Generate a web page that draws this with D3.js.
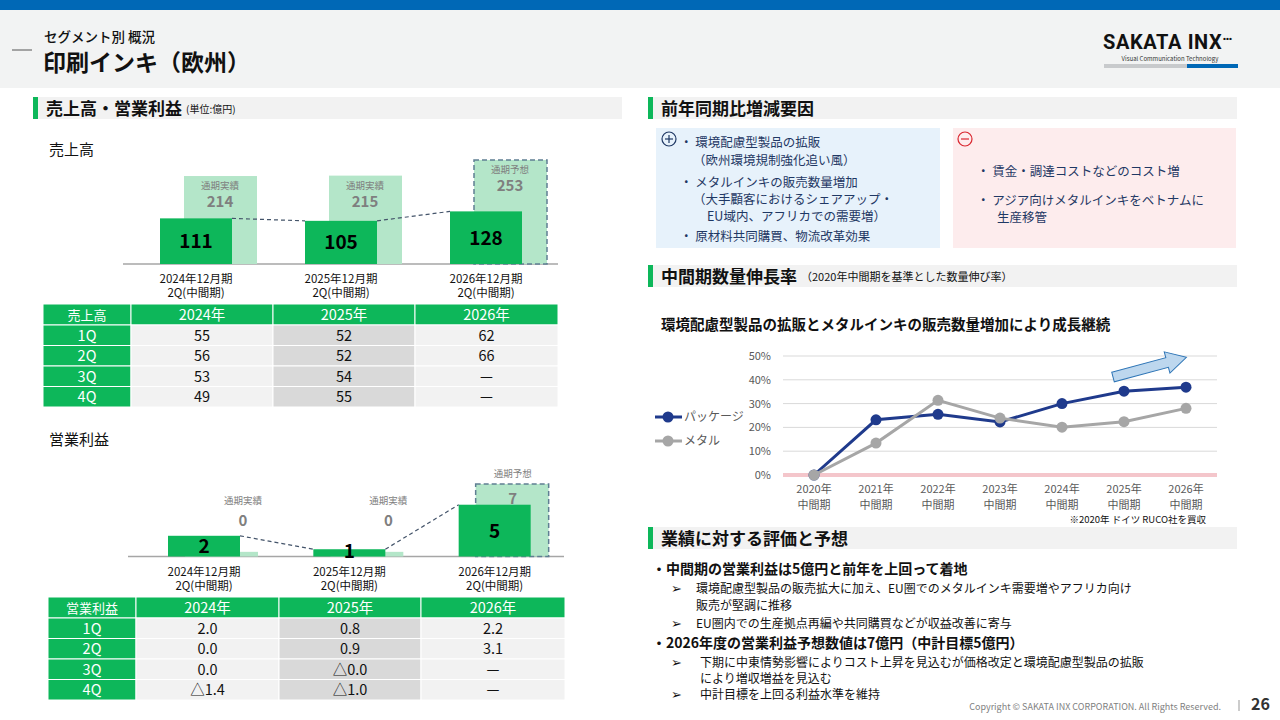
<!DOCTYPE html>
<html>
<head>
<meta charset="utf-8">
<script src="https://cdn.jsdelivr.net/npm/d3@7"></script>
<style>
  body { margin: 0; background: #fff; }
  svg { display: block; font-family: "Noto Sans CJK JP", "Noto Sans", "DejaVu Sans", sans-serif; }
</style>
</head>
<body>
<div id="slide"></div>
<script>
// ---- data ----
var periods = ["2024年12月期", "2025年12月期", "2026年12月期"];
var periodSub = "2Q(中間期)";
var fullKind = ["通期実績", "通期実績", "通期予想"];
var salesHalf = [111, 105, 128];
var salesFull = [214, 215, 253];
var opHalf = [2, 0.7, 5];
var opFull = [0.45, 0.45, 7];

var tableYears = ["2024年", "2025年", "2026年"];
var quarters = ["1Q", "2Q", "3Q", "4Q"];
var sales2024 = ["55", "56", "53", "49"];
var sales2025 = ["52", "52", "54", "55"];
var sales2026 = ["62", "66", "—", "—"];
var op2024 = ["2.0", "0.0", "0.0", "△1.4"];
var op2025 = ["0.8", "0.9", "△0.0", "△1.0"];
var op2026 = ["2.2", "3.1", "—", "—"];

var growthYears = ["2020年", "2021年", "2022年", "2023年", "2024年", "2025年", "2026年"];
var packageGrowth = [0, 23.2, 25.5, 22.3, 30, 35.2, 36.9];
var metalGrowth = [0, 13.4, 31.4, 23.9, 20.1, 22.4, 28];
var growthTicks = [0, 10, 20, 30, 40, 50];

var plusLines = [
  ["・ 環境配慮型製品の拡販", 0], ["（欧州環境規制強化追い風）", 1],
  ["・ メタルインキの販売数量増加", 0], ["（大手顧客におけるシェアアップ・", 1],
  ["EU域内、アフリカでの需要増）", 2], ["・ 原材料共同購買、物流改革効果", 0]
];
var minusLines = [["・ 賃金・調達コストなどのコスト増", 0], ["・ アジア向けメタルインキをベトナムに", 0], ["生産移管", 1]];

var green = "#0db75a", lightGreen = "#b4e6c9", navy = "#1f3a8c";

var svg = d3.select("#slide").append("svg").attr("width", 1280).attr("height", 720);

// ---- page frame ----
svg.append("rect").attr("x", 0).attr("y", 0).attr("width", 1280).attr("height", 88).attr("fill", "#f2f3f3");
svg.append("rect").attr("x", 0).attr("y", 0).attr("width", 1280).attr("height", 10).attr("fill", "#0068b6");
svg.append("line").attr("x1", 12).attr("x2", 32).attr("y1", 50).attr("y2", 50).attr("stroke", "#555").attr("stroke-width", 1);
svg.append("text").attr("x", 44).attr("y", 42).attr("font-size", 13.5).attr("font-weight", 500).attr("fill", "#111").text("セグメント別 概況");
svg.append("text").attr("x", 43).attr("y", 71).attr("font-size", 23).attr("font-weight", 700).attr("fill", "#111").text("印刷インキ（欧州）");

var logo = svg.append("text").attr("x", 1103).attr("y", 49).attr("font-size", 20).attr("font-weight", 700)
  .attr("font-family", "Roboto, 'Noto Sans', sans-serif").attr("fill", "#111").attr("letter-spacing", 0.6);
logo.append("tspan").text("SAKATA INX");
logo.append("tspan").attr("font-size", 15).attr("dy", -5).attr("letter-spacing", -1.5).text("···");
svg.append("text").attr("x", 1170).attr("y", 61).attr("text-anchor", "middle").attr("font-size", 6).attr("fill", "#333").text("Visual Communication Technology");
svg.append("rect").attr("x", 1104).attr("y", 64).attr("width", 83).attr("height", 4).attr("fill", "#c8cacc");
svg.append("rect").attr("x", 1187).attr("y", 64).attr("width", 51).attr("height", 4).attr("fill", "#0068b6");

function section(x, y, w, title, sub) {
  svg.append("rect").attr("x", x).attr("y", y).attr("width", w).attr("height", 22).attr("fill", "#f2f2f2");
  svg.append("rect").attr("x", x).attr("y", y).attr("width", 5).attr("height", 22).attr("fill", green);
  var t = svg.append("text").attr("x", x + 13).attr("y", y + 18).attr("font-size", 17).attr("font-weight", 700).attr("fill", "#111").text(title);
  if (sub) {
    var tw = t.node().getComputedTextLength();
    svg.append("text").attr("x", x + 13 + tw + 4).attr("y", y + 16).attr("font-size", sub.size).attr("fill", "#111").text(sub.text);
  }
}
section(33, 97, 589, "売上高・営業利益", {text: "(単位:億円)", size: 10});
section(648, 97, 589, "前年同期比増減要因");
section(648, 265, 589, "中間期数量伸長率", {text: "（2020年中間期を基準とした数量伸び率）", size: 11});
section(648, 527, 589, "業績に対する評価と予想");

// ---- bar charts ----
function barChart(o) {
  var g = svg.append("g");
  var x = d3.scaleBand().domain(periods).range(o.xRange);
  var y = d3.scaleLinear().domain([0, o.max]).range([o.base, o.top]);
  var darkX = function(d, i) { return x(periods[i]) + o.inset; };
  var lightX = function(d, i) { return darkX(d, i) + o.shift; };

  g.append("line").attr("x1", o.xRange[0]).attr("x2", o.xRange[1]).attr("y1", o.base).attr("y2", o.base)
    .attr("stroke", "#a6a6a6").attr("stroke-width", 1.5);

  g.selectAll(".full").data(o.full).enter().append("rect")
    .attr("x", lightX).attr("y", function(d) { return y(d); })
    .attr("width", o.w + 1).attr("height", function(d) { return o.base - y(d); })
    .attr("fill", lightGreen)
    .attr("stroke", function(d, i) { return i === 2 ? "#5f7f93" : "none"; })
    .attr("stroke-width", 1.5).attr("stroke-dasharray", "5,3");

  g.selectAll(".half").data(o.half).enter().append("rect")
    .attr("x", darkX).attr("y", function(d) { return y(d); })
    .attr("width", o.w).attr("height", function(d) { return o.base - y(d); })
    .attr("fill", green);

  // dashed connectors
  for (var i = 0; i < o.half.length - 1; i++) {
    g.append("line")
      .attr("x1", darkX(null, i) + o.w).attr("y1", y(o.half[i]))
      .attr("x2", darkX(null, i + 1)).attr("y2", y(o.half[i + 1]))
      .attr("stroke", "#44546a").attr("stroke-width", 1.2).attr("stroke-dasharray", "4,3");
  }

  g.selectAll(".hv").data(o.half).enter().append("text")
    .attr("x", function(d, i) { return darkX(d, i) + o.w / 2; })
    .attr("y", function(d) { return Math.min((y(d) + o.base) / 2 + 7, o.base + 1.5); })
    .attr("text-anchor", "middle").attr("font-size", 19).attr("font-weight", 700).attr("fill", "#000")
    .text(function(d) { return Math.round(d); });

  g.selectAll(".fk").data(o.full).enter().append("text")
    .attr("x", function(d, i) { return o.fullLabelX(lightX(d, i), i); })
    .attr("y", function(d, i) { return o.fullLabelY(y(d), i)[0]; })
    .attr("text-anchor", "middle").attr("font-size", 9.5).attr("fill", "#7f7f7f")
    .text(function(d, i) { return fullKind[i]; });
  g.selectAll(".fv").data(o.full).enter().append("text")
    .attr("x", function(d, i) { return o.fullLabelX(lightX(d, i), i); })
    .attr("y", function(d, i) { return o.fullLabelY(y(d), i)[1]; })
    .attr("text-anchor", "middle").attr("font-size", 15).attr("font-weight", 700).attr("fill", "#7f7f7f")
    .text(function(d) { return Math.round(d); });

  g.selectAll(".xl").data(periods).enter().append("text")
    .attr("x", function(d, i) { return darkX(d, i) + o.w / 2; })
    .attr("y", o.base + 19).attr("text-anchor", "middle").attr("font-size", 11.5).attr("fill", "#111")
    .text(function(d) { return d; });
  g.selectAll(".xl2").data(periods).enter().append("text")
    .attr("x", function(d, i) { return darkX(d, i) + o.w / 2; })
    .attr("y", o.base + 33).attr("text-anchor", "middle").attr("font-size", 11.5).attr("fill", "#111")
    .text(periodSub);
}

svg.append("text").attr("x", 49).attr("y", 155).attr("font-size", 15).attr("fill", "#111").text("売上高");
barChart({
  half: salesHalf, full: salesFull, max: 253, base: 264, top: 160,
  xRange: [123, 558], inset: 37, shift: 24, w: 72,
  fullLabelX: function(lx) { return lx + 36; },
  fullLabelY: function(ty) { return [ty + 13, ty + 31]; }
});

svg.append("text").attr("x", 49).attr("y", 445).attr("font-size", 15).attr("fill", "#111").text("営業利益");
barChart({
  half: opHalf, full: opFull, max: 7, base: 556.5, top: 484,
  xRange: [128, 564], inset: 40, shift: 17, w: 72,
  fullLabelX: function(lx, i) { return i === 2 ? lx + 37 : lx + 58; },
  fullLabelY: function(ty, i) { return i === 2 ? [ty - 7, ty + 20] : [504, 526]; }
});

// ---- tables ----
function table(x0, y0, edges, corner, cols) {
  var g = svg.append("g");
  var rowH = 20.5, headH = 21;
  var header = [corner].concat(tableYears);
  g.selectAll(".hc").data(header).enter().append("rect")
    .attr("x", function(d, i) { return edges[i]; }).attr("y", y0)
    .attr("width", function(d, i) { return edges[i + 1] - edges[i]; }).attr("height", headH)
    .attr("fill", green).attr("stroke", "#fff").attr("stroke-width", 1);
  g.selectAll(".ht").data(header).enter().append("text")
    .attr("x", function(d, i) { return (edges[i] + edges[i + 1]) / 2; }).attr("y", y0 + 15.5)
    .attr("text-anchor", "middle").attr("font-size", function(d, i) { return i === 0 ? 13 : 14.5; })
    .attr("fill", "#fff").text(function(d) { return d; });

  quarters.forEach(function(q, r) {
    var yy = y0 + headH + r * rowH;
    var cells = [q].concat(cols.map(function(c) { return c[r]; }));
    g.selectAll(".r" + r).data(cells).enter().append("rect")
      .attr("x", function(d, i) { return edges[i]; }).attr("y", yy)
      .attr("width", function(d, i) { return edges[i + 1] - edges[i]; }).attr("height", rowH)
      .attr("fill", function(d, i) { return i === 0 ? green : (i === 2 ? "#d9d9d9" : "#f2f2f2"); })
      .attr("stroke", "#fff").attr("stroke-width", 1);
    g.selectAll(".t" + r).data(cells).enter().append("text")
      .attr("x", function(d, i) { return (edges[i] + edges[i + 1]) / 2; }).attr("y", yy + 15.5)
      .attr("text-anchor", "middle").attr("font-size", 14.5)
      .attr("fill", function(d, i) { return i === 0 ? "#fff" : "#111"; })
      .text(function(d) { return d; });
  });
}
table(43, 304, [43, 131, 273, 415, 558], "売上高", [sales2024, sales2025, sales2026]);
table(48, 597, [48, 136, 279, 421, 565], "営業利益", [op2024, op2025, op2026]);

// ---- plus / minus boxes ----
svg.append("rect").attr("x", 656).attr("y", 128).attr("width", 284).attr("height", 120).attr("fill", "#e7f2fb");
svg.append("rect").attr("x", 953).attr("y", 128).attr("width", 283).attr("height", 120).attr("fill", "#fdeced");

function sign(cx, cy, col, plus) {
  svg.append("circle").attr("cx", cx).attr("cy", cy).attr("r", 7).attr("fill", "none").attr("stroke", col).attr("stroke-width", 1.2);
  svg.append("line").attr("x1", cx - 4).attr("x2", cx + 4).attr("y1", cy).attr("y2", cy).attr("stroke", col).attr("stroke-width", 1.2);
  if (plus) svg.append("line").attr("x1", cx).attr("x2", cx).attr("y1", cy - 4).attr("y2", cy + 4).attr("stroke", col).attr("stroke-width", 1.2);
}
sign(669, 139, "#1f3864", true);
sign(965, 139, "#d9262f", false);

var plusY = [147, 165, 187, 203.5, 220.5, 241];
svg.selectAll(".pl").data(plusLines).enter().append("text")
  .attr("x", function(d) { return [680, 693, 707][d[1]]; })
  .attr("y", function(d, i) { return plusY[i]; })
  .attr("font-size", 12.5).attr("fill", "#1f3864").text(function(d) { return d[0]; });
var minusY = [176, 204.5, 221.5];
svg.selectAll(".ml").data(minusLines).enter().append("text")
  .attr("x", function(d) { return d[1] ? 997 : 977; })
  .attr("y", function(d, i) { return minusY[i]; })
  .attr("font-size", 12.5).attr("fill", "#1f3864").text(function(d) { return d[0]; });

// ---- growth line chart ----
svg.append("text").attr("x", 661).attr("y", 330).attr("font-size", 14.5).attr("font-weight", 700).attr("fill", "#111")
  .text("環境配慮型製品の拡販とメタルインキの販売数量増加により成長継続");

var lx = d3.scalePoint().domain(growthYears).range([814, 1186]);
var ly = d3.scaleLinear().domain([0, 50]).range([475, 356]);
var lg = svg.append("g");

lg.selectAll(".grid").data(growthTicks.filter(function(t) { return t > 0; })).enter().append("line")
  .attr("x1", 783).attr("x2", 1217).attr("y1", function(d) { return ly(d); }).attr("y2", function(d) { return ly(d); })
  .attr("stroke", "#d9d9d9").attr("stroke-width", 1);
lg.append("line").attr("x1", 783).attr("x2", 1217).attr("y1", ly(0)).attr("y2", ly(0))
  .attr("stroke", "#f4c6cb").attr("stroke-width", 4);
lg.selectAll(".yt").data(growthTicks).enter().append("text")
  .attr("x", 771).attr("y", function(d) { return ly(d) + 4; }).attr("text-anchor", "end")
  .attr("font-size", 11).attr("fill", "#595959").text(function(d) { return d + "%"; });
lg.selectAll(".xt").data(growthYears).enter().append("text")
  .attr("x", function(d) { return lx(d); }).attr("y", 493).attr("text-anchor", "middle")
  .attr("font-size", 11).attr("fill", "#595959").text(function(d) { return d; });
lg.selectAll(".xt2").data(growthYears).enter().append("text")
  .attr("x", function(d) { return lx(d); }).attr("y", 509).attr("text-anchor", "middle")
  .attr("font-size", 11).attr("fill", "#595959").text("中間期");

function series(vals, col) {
  var line = d3.line().x(function(d, i) { return lx(growthYears[i]); }).y(function(d) { return ly(d); });
  lg.append("path").datum(vals).attr("d", line).attr("fill", "none").attr("stroke", col).attr("stroke-width", 3);
  lg.selectAll(null).data(vals).enter().append("circle")
    .attr("cx", function(d, i) { return lx(growthYears[i]); }).attr("cy", function(d) { return ly(d); })
    .attr("r", 5.5).attr("fill", col);
}
series(packageGrowth, navy);
series(metalGrowth, "#a6a6a6");

[["パッケージ", navy, 417], ["メタル", "#a6a6a6", 441]].forEach(function(l) {
  lg.append("line").attr("x1", 655).attr("x2", 682).attr("y1", l[2]).attr("y2", l[2]).attr("stroke", l[1]).attr("stroke-width", 3);
  lg.append("circle").attr("cx", 668).attr("cy", l[2]).attr("r", 5.5).attr("fill", l[1]);
  lg.append("text").attr("x", 684).attr("y", l[2] + 4).attr("font-size", 12).attr("fill", "#595959").text(l[0]);
});

// trend arrow
lg.append("path")
  .attr("d", "M0,-5 L56,-5 L56,-11 L76,0 L56,11 L56,5 L0,5 Z")
  .attr("transform", "translate(1113,377) rotate(-15)")
  .attr("fill", "#bdd7ee").attr("stroke", "#2e75b6").attr("stroke-width", 1);

svg.append("text").attr("x", 1206).attr("y", 523).attr("text-anchor", "end").attr("font-size", 9.5).attr("fill", "#111")
  .text("※2020年 ドイツ RUCO社を買収");

// ---- evaluation text ----
var evalLines = [
  {t: "・中間期の営業利益は5億円と前年を上回って着地", x: 652, y: 574, s: 14, b: 700},
  {t: "➢", x: 671, y: 593, s: 13, b: 400},
  {t: "環境配慮型製品の販売拡大に加え、EU圏でのメタルインキ需要増やアフリカ向け", x: 696, y: 593, s: 12, b: 400},
  {t: "販売が堅調に推移", x: 696, y: 610, s: 12, b: 400},
  {t: "➢", x: 671, y: 628, s: 13, b: 400},
  {t: "EU圏内での生産拠点再編や共同購買などが収益改善に寄与", x: 696, y: 628, s: 12, b: 400},
  {t: "・2026年度の営業利益予想数値は7億円（中計目標5億円）", x: 652, y: 648, s: 14, b: 700},
  {t: "➢", x: 671, y: 667, s: 13, b: 400},
  {t: "下期に中東情勢影響によりコスト上昇を見込むが価格改定と環境配慮型製品の拡販", x: 700, y: 667, s: 12, b: 400},
  {t: "により増収増益を見込む", x: 700, y: 683, s: 12, b: 400},
  {t: "➢", x: 671, y: 699, s: 13, b: 400},
  {t: "中計目標を上回る利益水準を維持", x: 700, y: 699, s: 12, b: 400}
];
svg.selectAll(".ev").data(evalLines).enter().append("text")
  .attr("x", function(d) { return d.x; }).attr("y", function(d) { return d.y; })
  .attr("font-size", function(d) { return d.s; }).attr("font-weight", function(d) { return d.b; })
  .attr("fill", "#111").text(function(d) { return d.t; });

// footer
svg.append("text").attr("x", 1221).attr("y", 710).attr("text-anchor", "end").attr("font-size", 9).attr("fill", "#7f7f7f")
  .text("Copyright © SAKATA INX CORPORATION. All Rights Reserved.");
svg.append("line").attr("x1", 1239).attr("x2", 1239).attr("y1", 700).attr("y2", 711).attr("stroke", "#999").attr("stroke-width", 1);
svg.append("text").attr("x", 1270).attr("y", 710).attr("text-anchor", "end").attr("font-size", 16).attr("font-weight", 700).attr("fill", "#333").text("26");
</script>
</body>
</html>
